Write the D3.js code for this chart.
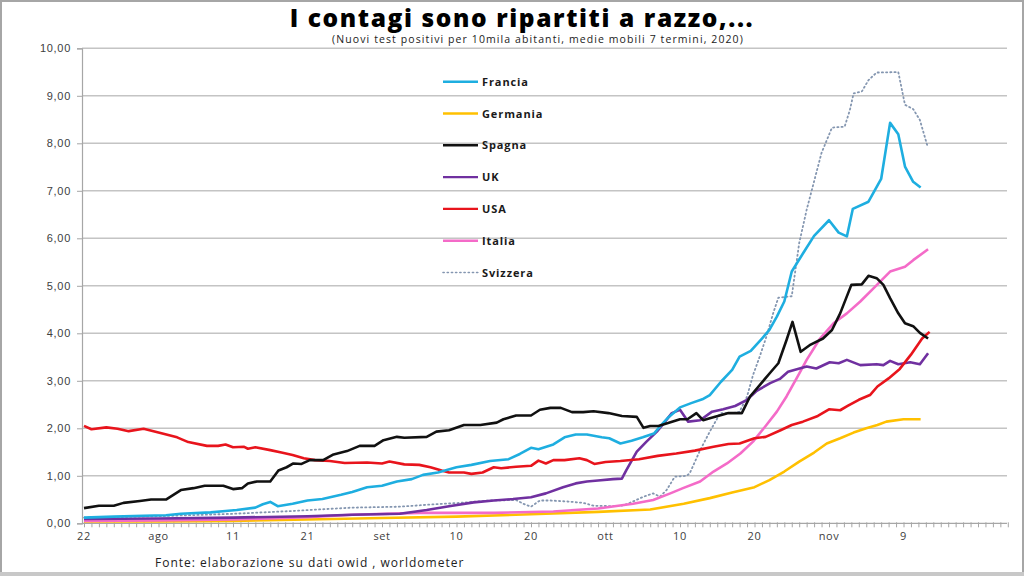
<!DOCTYPE html>
<html><head><meta charset="utf-8">
<script src="https://cdn.jsdelivr.net/npm/d3@7/dist/d3.min.js"></script>
<style>
html,body{margin:0;padding:0;background:#fff;}
svg{display:block;font-family:"Open Sans",sans-serif;}
</style></head>
<body>
<svg id="chart" width="1024" height="576"></svg>
<script>
// x = days since 22 July 2020
const yTicks = [0,1,2,3,4,5,6,7,8,9,10];
const xTickDays = [0,10,20,30,40,50,60,70,80,90,100,110];
const xTickLabels = ["22","ago","11","21","set","10","20","ott","10","20","nov","9"];

const francia = [[0,0.12],[4,0.14],[8,0.16],[11,0.17],[13,0.2],[17,0.23],[19,0.26],[20.5,0.28],[23,0.33],[24,0.4],[25,0.45],[26,0.36],[28,0.41],[30,0.48],[32,0.51],[34.5,0.6],[36,0.66],[38,0.76],[40,0.79],[42,0.88],[44,0.93],[45.5,1.02],[47.5,1.07],[50,1.18],[52,1.23],[54.5,1.31],[57,1.35],[58.5,1.46],[60,1.59],[61,1.56],[63,1.66],[64.5,1.81],[66,1.87],[67.5,1.87],[69.5,1.81],[70.5,1.79],[72,1.68],[73.5,1.74],[75,1.81],[76.5,1.89],[77.5,2.07],[78.5,2.24],[80,2.44],[81.5,2.53],[83,2.61],[84,2.7],[85.5,2.98],[87,3.23],[88,3.51],[89.5,3.63],[91,3.89],[92,4.07],[93,4.35],[94,4.67],[95,5.3],[96.5,5.68],[98,6.05],[100,6.38],[101.3,6.12],[102.4,6.04],[103.2,6.62],[105.3,6.77],[107,7.25],[108.2,8.43],[109.3,8.19],[110.2,7.51],[111.3,7.19],[112.3,7.07]];
const germania = [[0,0.04],[10,0.04],[20,0.05],[30,0.08],[40,0.11],[50,0.14],[60,0.19],[69,0.24],[76,0.29],[80.5,0.41],[84,0.53],[87,0.65],[90,0.76],[92,0.91],[94,1.09],[96,1.3],[98,1.49],[99.7,1.68],[101.5,1.79],[103.3,1.91],[105,2.0],[106.5,2.07],[107.7,2.14],[110,2.19],[112.3,2.19]];
const spagna = [[0,0.32],[2,0.37],[4,0.37],[5.3,0.43],[7.5,0.47],[9,0.5],[11,0.5],[12,0.6],[13,0.7],[14.7,0.74],[16.2,0.79],[18.7,0.79],[20,0.72],[21.2,0.74],[22,0.84],[23.2,0.88],[25,0.88],[26.1,1.11],[27.2,1.18],[28.1,1.26],[29.2,1.25],[30.3,1.33],[32.1,1.33],[33.5,1.45],[35.3,1.52],[37,1.63],[39,1.63],[40.2,1.75],[42,1.82],[43,1.8],[46,1.82],[47.3,1.93],[49,1.96],[51,2.07],[53.2,2.07],[55.4,2.12],[56.3,2.19],[58,2.27],[60,2.27],[61.2,2.39],[62.6,2.43],[64,2.43],[65.5,2.34],[67,2.34],[68.4,2.36],[70.4,2.32],[72.2,2.26],[74.2,2.24],[75.1,2.01],[76,2.05],[77.1,2.05],[78.4,2.11],[80,2.19],[81,2.19],[82.2,2.32],[83.1,2.17],[84,2.21],[85.8,2.29],[86.5,2.32],[88.3,2.32],[89.4,2.67],[90.7,2.91],[92.1,3.17],[93.2,3.37],[94.3,3.86],[95.1,4.24],[96.2,3.61],[97.4,3.75],[99.2,3.89],[100.4,4.07],[101.5,4.42],[103,5.02],[104.4,5.03],[105.3,5.21],[106.4,5.16],[107.3,5.02],[108.2,4.74],[109.3,4.42],[110.2,4.21],[111.3,4.15],[112.2,4.01],[113.3,3.89]];
const uk = [[0,0.09],[10,0.1],[20,0.12],[30,0.15],[36,0.18],[42.4,0.2],[46,0.28],[49,0.36],[52.3,0.44],[55,0.48],[57.6,0.51],[60,0.55],[62,0.63],[64.3,0.76],[66,0.84],[67.5,0.88],[69,0.9],[71,0.93],[72.2,0.94],[72.8,1.12],[74.2,1.51],[75.5,1.72],[76.9,1.93],[78,2.14],[78.9,2.32],[80,2.39],[81.1,2.14],[82.7,2.17],[84.3,2.35],[85.8,2.4],[87.4,2.47],[89,2.6],[90.3,2.79],[92.1,2.95],[93.4,3.04],[94.5,3.19],[97,3.3],[98.3,3.26],[100.1,3.39],[101.3,3.37],[102.4,3.44],[104.2,3.33],[106.4,3.35],[107.3,3.33],[108.2,3.42],[109.3,3.35],[110.9,3.39],[112.2,3.35],[113.3,3.58]];
const usa = [[0,2.05],[1,1.98],[3,2.02],[4.5,1.99],[6,1.94],[8,1.99],[10,1.91],[12.5,1.81],[14,1.71],[16.5,1.63],[18,1.63],[19,1.66],[20,1.6],[21.5,1.61],[22,1.57],[23,1.6],[25,1.54],[26.5,1.49],[28,1.44],[29.5,1.37],[31,1.33],[33,1.31],[35,1.27],[38,1.28],[40,1.26],[41,1.3],[43,1.24],[45,1.23],[46.5,1.18],[48,1.11],[49,1.07],[51,1.07],[52,1.04],[53.5,1.07],[55,1.18],[56,1.16],[58,1.19],[60,1.21],[61,1.32],[62,1.26],[63,1.33],[64.5,1.33],[66.5,1.37],[67.5,1.33],[68.5,1.25],[70,1.29],[72,1.31],[74.5,1.35],[77,1.42],[79.5,1.47],[82,1.53],[84.5,1.61],[86.5,1.67],[88,1.68],[90,1.79],[91.5,1.82],[93.5,1.96],[95,2.07],[96.5,2.14],[98.5,2.26],[100,2.4],[101.5,2.38],[102.5,2.47],[104,2.6],[105.5,2.7],[106.5,2.88],[108,3.05],[109.5,3.25],[111,3.55],[112.5,3.89],[113.5,4.03]];
const italia = [[0,0.05],[10,0.06],[20,0.08],[30,0.13],[36,0.18],[45,0.22],[55,0.22],[63,0.25],[69,0.31],[73.7,0.41],[76.4,0.49],[78.7,0.63],[80.4,0.74],[82.7,0.88],[84.5,1.09],[86.3,1.26],[88.1,1.47],[89.8,1.72],[91.6,2.07],[93,2.35],[94.3,2.67],[96,3.15],[97,3.44],[98.8,3.89],[100.6,4.21],[102.4,4.42],[104.2,4.67],[106,4.95],[108.2,5.3],[110.2,5.4],[111.3,5.54],[113.3,5.77]];
const svizzera = [[0,0.12],[10,0.15],[20,0.2],[28,0.26],[36,0.33],[42.4,0.35],[47,0.4],[50.5,0.43],[54.5,0.48],[58,0.49],[59,0.41],[60,0.35],[61.2,0.48],[62.6,0.48],[64.8,0.46],[67,0.43],[68.4,0.37],[71.5,0.36],[72.5,0.38],[73.7,0.46],[75.1,0.56],[76.4,0.63],[77.3,0.56],[78.2,0.7],[79.3,0.98],[80.9,1.0],[81.3,1.05],[82.7,1.54],[84,1.93],[85.4,2.32],[87.2,2.32],[88,2.35],[89,2.67],[89.8,3.12],[90.7,3.51],[91.6,3.93],[92.5,4.42],[93.2,4.75],[95,4.78],[96,5.9],[97,6.6],[98,7.2],[99,7.8],[100.4,8.33],[102.1,8.35],[102.8,8.7],[103.3,9.05],[104.4,9.09],[105.3,9.33],[106.4,9.49],[109.3,9.5],[110.2,8.81],[111.3,8.72],[112.2,8.49],[113.2,7.95]];

const seriesNames = ["Francia","Germania","Spagna","UK","USA","Italia","Svizzera"];
const seriesData = [francia,germania,spagna,uk,usa,italia,svizzera];
const seriesColors = ["#1eaee0","#ffc000","#111111","#7030a0","#e8141c","#f46bc8","#8496b0"];

const svg = d3.select("#chart");
const W = 1024, H = 576;

// slide frame
svg.append("rect").attr("x",1).attr("y",1).attr("width",W-2).attr("height",H-2)
  .attr("fill","none").attr("stroke","#a6a6a6").attr("stroke-width",2);
svg.append("rect").attr("x",0).attr("y",572).attr("width",W).attr("height",4).attr("fill","#c8c8c8");

const x = d3.scaleLinear().domain([0,124]).range([84, 84+7.45*124]);
const y = d3.scaleLinear().domain([0,10]).range([523.3, 48.3]);
const xLeft = 82, xRight = 1007;

// gridlines
svg.append("g").selectAll("line").data(yTicks.filter(d=>d>0)).join("line")
  .attr("x1",xLeft).attr("x2",xRight).attr("y1",d=>y(d)).attr("y2",d=>y(d))
  .attr("stroke","#c4c4c4").attr("stroke-width",1.5);

// y axis
const yAxis = d3.axisLeft(y).tickValues(yTicks).tickSize(5)
  .tickFormat(d=>d3.format(".2f")(d).replace(".",","));
const gy = svg.append("g").attr("transform",`translate(${xLeft},0)`).call(yAxis);
gy.select(".domain").attr("stroke","#a6a6a6").attr("stroke-width",1.2);
gy.selectAll(".tick line").attr("stroke","#a6a6a6");
gy.selectAll("text").attr("font-size",11).attr("letter-spacing",0.7).attr("fill","#404040").attr("x",-11);

// x axis (daily ticks)
const xAxis = d3.axisBottom(x).tickValues(d3.range(0,125)).tickSize(4).tickFormat("");
const gx = svg.append("g").attr("transform",`translate(0,${y(0)})`).call(xAxis);
gx.select(".domain").attr("stroke","#a6a6a6").attr("stroke-width",1.2).attr("d",`M${xLeft},0H${xRight}`);
gx.selectAll(".tick line").attr("stroke","#a6a6a6").attr("y1",-1);
svg.append("g").selectAll("text").data(xTickDays).join("text")
  .attr("x",d=>x(d)).attr("y",540).attr("text-anchor","middle")
  .attr("font-size",11).attr("letter-spacing",0.6).attr("fill","#404040")
  .text((d,i)=>xTickLabels[i]);

// lines
const line = d3.line().x(d=>x(d[0])).y(d=>y(d[1]));
const order = [6,1,5,3,4,0,2];
order.forEach(i=>{
  const p = svg.append("path").datum(seriesData[i]).attr("d",line)
    .attr("fill","none").attr("stroke",seriesColors[i]).attr("stroke-linejoin","round");
  if (i===6) p.attr("stroke-width",1.8).attr("stroke-dasharray","1.2,3").attr("stroke-linecap","round");
  else p.attr("stroke-width",2.6);
});

// legend
const lg = svg.append("g");
seriesNames.forEach((n,i)=>{
  const yy = 81.7 + i*31.8;
  const l = lg.append("line").attr("x1",443).attr("x2",478).attr("y1",yy).attr("y2",yy)
    .attr("stroke",seriesColors[i]);
  if (i===6) l.attr("stroke-width",1.6).attr("stroke-dasharray","1.2,3").attr("stroke-linecap","round");
  else l.attr("stroke-width",2.4);
  lg.append("text").attr("x",482).attr("y",yy+4).attr("font-size",11).attr("font-weight",700)
    .attr("letter-spacing",0.9).attr("fill","#1a1a1a").text(n);
});

// titles
svg.append("text").attr("x",522).attr("y",27).attr("text-anchor","middle")
  .attr("font-size",24.5).attr("font-weight",800).attr("letter-spacing",1.6).attr("fill","#000")
  .text("I contagi sono ripartiti a razzo,...");
svg.append("text").attr("x",538).attr("y",43).attr("text-anchor","middle")
  .attr("font-size",10.5).attr("letter-spacing",1.1).attr("fill","#222")
  .text("(Nuovi test positivi per 10mila abitanti, medie mobili 7 termini, 2020)");
svg.append("text").attr("x",155).attr("y",567)
  .attr("font-size",12).attr("letter-spacing",1).attr("fill","#222")
  .text("Fonte: elaborazione su dati  owid , worldometer");
</script>
</body></html>
